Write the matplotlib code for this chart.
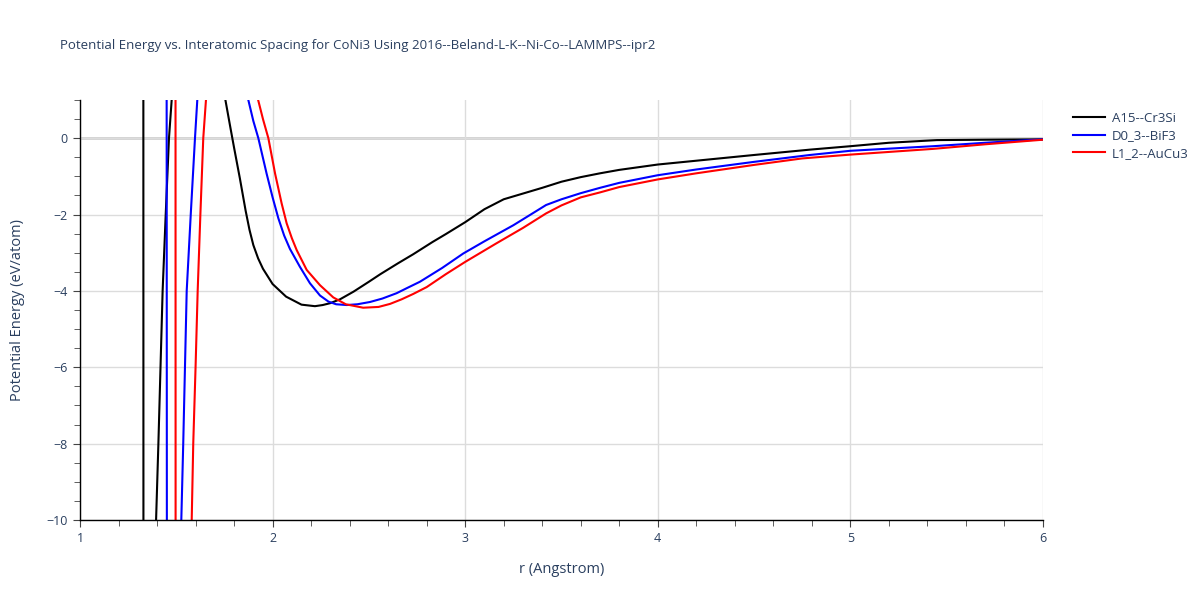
import matplotlib
matplotlib.use("Agg")
import matplotlib.pyplot as plt
from matplotlib.ticker import MultipleLocator

plt.rcParams['font.family'] = ['Open Sans', 'DejaVu Sans']

TITLE = "Potential Energy vs. Interatomic Spacing for CoNi3 Using 2016--Beland-L-K--Ni-Co--LAMMPS--ipr2"

# A15--Cr3Si (values beyond the visible range are estimated off-chart)
r_a15 = [1.00, 1.328, 1.330, 1.38, 1.395, 1.407, 1.418, 1.429, 1.445, 1.462,
         1.476, 1.50, 1.62, 1.72, 1.755, 1.78, 1.80, 1.83, 1.86, 1.88,
         1.90, 1.925, 1.95, 2.00, 2.07, 2.15, 2.22, 2.26, 2.30, 2.35, 2.42,
         2.50, 2.56, 2.65, 2.73, 2.83, 2.90, 3.00, 3.10, 3.20, 3.30,
         3.40, 3.50, 3.60, 3.70, 3.80, 3.90, 4.00, 4.20, 4.50, 4.79,
         5.00, 5.20, 5.45, 5.70, 6.00]
e_a15 = [30.0, 30.0, -30.0, -14.0, -10.0, -8.0, -6.0, -4.0, -2.0, 0.0,
         1.0, 4.0, 10.0, 3.5, 1.0, 0.3, -0.25, -1.05, -1.9, -2.4,
         -2.8, -3.15, -3.42, -3.82, -4.15, -4.36, -4.40, -4.37, -4.32, -4.22, -4.02,
         -3.76, -3.56, -3.28, -3.04, -2.72, -2.51, -2.20, -1.86, -1.60, -1.45,
         -1.30, -1.14, -1.02, -0.92, -0.83, -0.76, -0.69, -0.59, -0.44, -0.30,
         -0.21, -0.12, -0.05, -0.04, -0.03]

# D0_3--BiF3
r_d03 = [1.00, 1.447, 1.453, 1.50, 1.526, 1.536, 1.545, 1.554, 1.575, 1.597,
         1.609, 1.65, 1.75, 1.85, 1.874, 1.90, 1.926, 1.969, 2.00, 2.03,
         2.06, 2.09, 2.142, 2.194, 2.246, 2.29, 2.33, 2.385, 2.44, 2.506,
         2.57, 2.644, 2.70, 2.765, 2.88, 2.99, 3.10, 3.25, 3.34, 3.42,
         3.50, 3.60, 3.70, 3.80, 4.00, 4.20, 4.50, 4.79, 5.00, 5.43,
         5.70, 6.00]
e_d03 = [30.0, 30.0, -30.0, -14.0, -10.0, -8.0, -6.0, -4.0, -2.0, 0.0,
         1.0, 5.0, 8.0, 2.0, 1.0, 0.45, 0.0, -0.93, -1.55, -2.1,
         -2.55, -2.9, -3.37, -3.80, -4.12, -4.28, -4.35, -4.37, -4.35, -4.29,
         -4.20, -4.06, -3.92, -3.76, -3.40, -3.02, -2.70, -2.28, -2.00, -1.75,
         -1.60, -1.44, -1.30, -1.17, -0.97, -0.82, -0.62, -0.44, -0.33, -0.21,
         -0.12, -0.03]

# L1_2--AuCu3
r_l12 = [1.00, 1.495, 1.497, 1.55, 1.580, 1.588, 1.60, 1.611, 1.625, 1.640,
         1.654, 1.70, 1.80, 1.90, 1.925, 1.95, 1.978, 2.013, 2.047, 2.073,
         2.10, 2.125, 2.177, 2.246, 2.315, 2.38, 2.47, 2.55, 2.61, 2.67,
         2.73, 2.80, 2.90, 3.00, 3.16, 3.30, 3.42, 3.50, 3.60, 3.70,
         3.80, 4.00, 4.20, 4.50, 4.75, 5.00, 5.43, 5.70, 6.00]
e_l12 = [30.0, 30.0, -30.0, -14.0, -10.0, -8.0, -6.0, -4.0, -2.0, 0.0,
         1.0, 5.0, 8.0, 2.0, 1.0, 0.5, 0.0, -0.93, -1.71, -2.23,
         -2.62, -2.93, -3.45, -3.85, -4.17, -4.35, -4.44, -4.42, -4.34, -4.22,
         -4.08, -3.90, -3.56, -3.24, -2.76, -2.35, -1.97, -1.76, -1.55, -1.42,
         -1.28, -1.08, -0.92, -0.70, -0.53, -0.43, -0.28, -0.16, -0.04]

SERIES = [
    ("A15--Cr3Si", r_a15, e_a15, "black"),
    ("D0_3--BiF3", r_d03, e_d03, "blue"),
    ("L1_2--AuCu3", r_l12, e_l12, "red"),
]


def main():
    text_color = "#2a3f5f"
    fig = plt.figure(figsize=(12, 6), dpi=100)
    ax = fig.add_axes([80 / 1200, 80 / 600, 963 / 1200, 420 / 600])

    for label, r, e, color in SERIES:
        ax.plot(r, e, color=color, lw=1.5, label=label)

    ax.set_xlim(1, 6)
    ax.set_ylim(-10, 1)
    ax.xaxis.set_major_locator(MultipleLocator(1))
    ax.xaxis.set_minor_locator(MultipleLocator(0.2))
    ax.yaxis.set_major_locator(MultipleLocator(2))
    ax.yaxis.set_minor_locator(MultipleLocator(0.5))

    ax.grid(True, which="major", color="#dcdcdc", lw=1)
    ax.axhline(0, color="#cfcfcf", lw=2, zorder=0.5)
    ax.set_axisbelow(True)

    for side in ("top", "right"):
        ax.spines[side].set_visible(False)
    for side in ("left", "bottom"):
        ax.spines[side].set_color("black")
        ax.spines[side].set_linewidth(1)

    ax.tick_params(which="both", direction="out", colors="#444444",
                   labelcolor=text_color, labelsize=9)
    ax.tick_params(which="major", length=5, pad=4)
    ax.tick_params(which="minor", length=4)

    ax.set_xlabel("r (Angstrom)", fontsize=10.5, color=text_color, labelpad=12)
    ax.set_ylabel("Potential Energy (eV/atom)", fontsize=10.5, color=text_color,
                  labelpad=15)
    fig.text(60 / 1200, 1 - 45 / 600, TITLE, fontsize=9.5, color=text_color,
             va="center", ha="left")

    leg = ax.legend(loc="upper left", bbox_to_anchor=(1.026, 0.985),
                    frameon=False, fontsize=9.5, handlelength=2.4,
                    handletextpad=0.5, labelspacing=0.35, borderaxespad=0)
    for t in leg.get_texts():
        t.set_color(text_color)

    fig.savefig("out.png", dpi=100)


if __name__ == "__main__":
    main()
